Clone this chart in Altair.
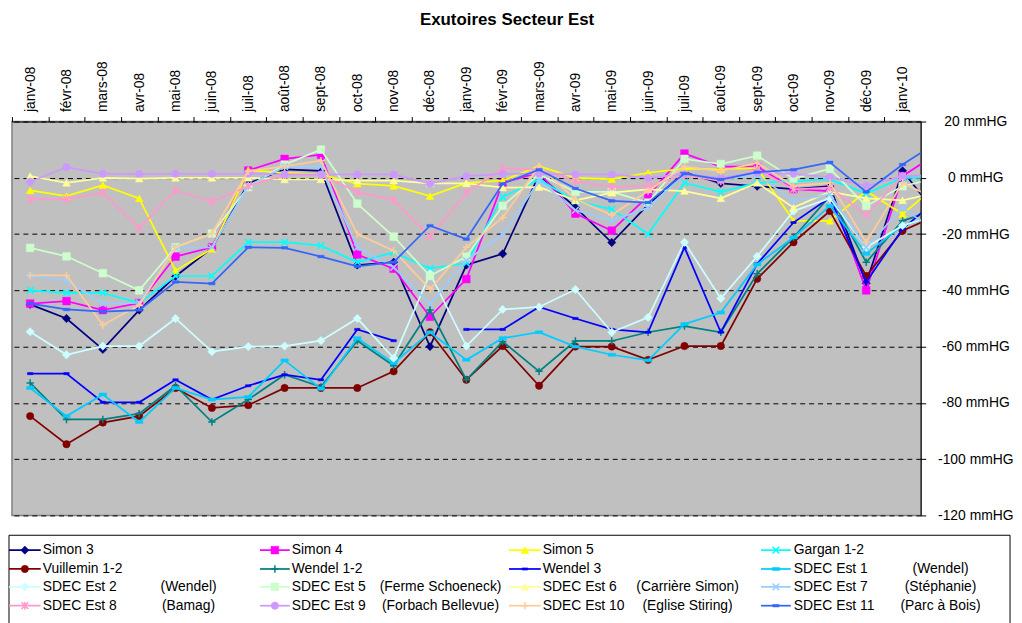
import altair as alt
import pandas as pd

FONT = "Liberation Sans"

months = ["janv-08", "févr-08", "mars-08", "avr-08", "mai-08", "juin-08", "juil-08",
          "août-08", "sept-08", "oct-08", "nov-08", "déc-08", "janv-09", "févr-09",
          "mars-09", "avr-09", "mai-09", "juin-09", "juil-09", "août-09", "sept-09",
          "oct-09", "nov-09", "déc-09", "janv-10"]
# the series continue one month beyond the visible axis (févr-10), clipped at the frame

series_names = ["Simon 3", "Simon 4", "Simon 5", "Gargan 1-2",
                "Vuillemin 1-2", "Wendel 1-2", "Wendel 3", "SDEC Est 1",
                "SDEC Est 2", "SDEC Est 5", "SDEC Est 6", "SDEC Est 7",
                "SDEC Est 8", "SDEC Est 9", "SDEC Est 10", "SDEC Est 11"]
series_notes = ["", "", "", "",
                "", "", "", "(Wendel)",
                "(Wendel)", "(Ferme Schoeneck)", "(Carrière Simon)", "(Stéphanie)",
                "(Bamag)", "(Forbach Bellevue)", "(Eglise Stiring)", "(Parc à Bois)"]

simon3 = [-45, -50, -61, -47, -35, -25, -2, 3, 2.5, -31, -30, -60, -31, -27, 1, -10.5,
          -23, -9.5, 2, -2, -3, -4, -3, -37.5, 2.5, -14]
simon4 = [-44.7, -43.8, -47, -44.5, -28, -24.7, 2.6, 6.7, 8.2, -27.3, -32.3, -49.4, -36,
          -1.8, 1.8, -12.7, -18.8, -6.5, 8.6, 4, 4, -4, -4.7, -40, 0.6, 9]
simon5 = [-4.5, -6.5, -2.6, -7.3, -33, -25.3, 2.7, 1.8, 1.2, -2.1, -2.9, -6.5, -1.8, -1,
          4.1, 0, -0.5, 1.8, 3.3, 3, 3.5, -15.3, -15.3, -4.7, -12.9, -2]
gargan12 = [-40, -40.9, -40.9, -44.5, -34.9, -34.9, -22.9, -22.9, -24.1, -30, -26.5,
            -32.3, -30.3, -6.8, -0.6, -8.2, -11.2, -20, -1.8, -5, -1.8, -1.2, -0.6,
            -5.6, 0, 0]
vuillemin12 = [-84.7, -94.7, -87, -84.7, -74.7, -81.8, -80.8, -74.7, -74.7, -74.7, -68.8,
               -54.9, -71.8, -59.8, -73.9, -60, -60, -64.7, -59.8, -59.8, -35.9, -22.9,
               -11.8, -34.9, -18.8, -13]
wendel12 = [-72.9, -85.9, -85.9, -83.8, -73.9, -86.8, -78.8, -70, -74.3, -57.9, -66.8,
            -47, -71.8, -58.2, -68.8, -58, -58, -54.9, -52.7, -54.9, -34.1, -21.2, -6.5,
            -30, -15.3, -11]
wendel3 = [-69.6, -69.6, -79.8, -79.8, -71.8, -78.8, -73.9, -70, -71.8, -53.9, -57.9,
           None, -53.9, -53.9, -45.9, -50, -53.9, -54.9, -24.7, -54.9, -30.6, -15.9,
           -7, -37, -18.2, -7]
sdec1 = [-74.7, -84.7, -77, -86.8, -74.7, -78.8, -77.9, -64.9, -75, -57, -65.9, -54.9,
         -64.7, -57, -54.9, -60, -62.9, -64.9, -52, -47.9, -30.8, -21.2, -10, -27, -17,
         -13]
sdec2 = [-54.7, -62.9, -59.8, -59.8, -50, -61.8, -60, -59.8, -57.9, -50, -64.1, -34,
         -59.8, -46.8, -45.9, -39.7, -54.9, -49.6, -22.9, -42.9, -27.9, -11.8, -7.3,
         -24.7, -17, -13]
sdec5 = [-24.9, -27.9, -33.9, -40, -24.7, -19.8, -3.3, 4.7, 10, -9.2, -20.9, -34.9, -28,
         -10, 1.2, -5, -5, -8.8, 6.7, 4.9, 7.9, -0.3, 3.2, -10, -3, 0]
sdec6 = [0.6, -1.8, 0, -0.3, 0, 0, 0, -0.6, -0.6, -1, -1, -2, -2, -3.5, -3.3, -8, -5.3,
         -4.1, -4.7, -7.3, -1.8, -10.6, -4.9, -7.3, -8, -5]
sdec7 = [-34.7, -36.5, -44.7, -44.5, -24.9, -24.7, -2.9, 4, 4.1, -24.7, -31.8, -44.9,
         -29.4, -20, -1.2, -11.5, -15.3, -10.6, 1.2, -0.6, 1, -8.2, -5.9, -24.7, -10.6,
         -20]
sdec8 = [-7.6, -7.6, -5.3, -17.9, -4.5, -8.5, -2.9, 1, 1, -5, -7.9, -20.9, -5.3, 3.3, 3,
         -1.2, -3.3, -2.9, 1, -1.2, 3, -4.1, -3.5, -13.2, 0.6, 1]
sdec9 = [-1.4, 3.8, 1.4, 1.4, 1.4, 1.4, 1.4, 1.2, 1.2, 1.2, 1.2, -2.1, 0.6, 1.4, 1.4, 1.2,
         1.2, 0, 1.4, 0, 1.8, 1.4, 0.2, -2.9, 0.6, 1]
sdec10 = [-34.7, -34.7, -52.3, -45.3, -24.7, -19.8, 2.4, 4.1, 6.1, -20, -25.9, -39.6,
          -24.7, -14.1, 4.1, -7.6, -13.2, -4.7, 4, 2.4, 5.3, -2.9, -1.8, -22.9, -1.8, -8]
sdec11 = [-44.7, -46.8, -47.6, -47, -37, -37.6, -24.7, -24.9, -28, -31.5, -30, -17,
          -21.8, -2.1, 2.9, -3.8, -8.2, -8.8, 1.5, -0.6, 2, 2.9, 5.5, -5, 4.7, 13]

series_values = [simon3, simon4, simon5, gargan12, vuillemin12, wendel12, wendel3, sdec1,
                 sdec2, sdec5, sdec6, sdec7, sdec8, sdec9, sdec10, sdec11]

# ---- styles (Excel default palette & markers) ----
X_PATH = "M-1,-1L1,1M-1,1L1,-1"
PLUS_PATH = "M-1,0L1,0M0,-1L0,1"
STAR_PATH = "M-1,-1L1,1M-1,1L1,-1M0,-1.2L0,1.2"
DASH_PATH = "M-1,-0.4L1,-0.4L1,0.4L-1,0.4Z"
styles = {
    "Simon 3":       ("#000080", "diamond", True, 70),
    "Simon 4":       ("#FF00FF", "square", True, 60),
    "Simon 5":       ("#FFFF00", "triangle-up", True, 60),
    "Gargan 1-2":    ("#00FFFF", X_PATH, False, 45),
    "Vuillemin 1-2": ("#800000", "circle", True, 55),
    "Wendel 1-2":    ("#008080", PLUS_PATH, False, 55),
    "Wendel 3":      ("#0000FF", DASH_PATH, True, 30),
    "SDEC Est 1":    ("#00CCFF", DASH_PATH, True, 55),
    "SDEC Est 2":    ("#CCFFFF", "diamond", True, 70),
    "SDEC Est 5":    ("#CCFFCC", "square", True, 60),
    "SDEC Est 6":    ("#FFFF99", "triangle-up", True, 60),
    "SDEC Est 7":    ("#99CCFF", X_PATH, False, 45),
    "SDEC Est 8":    ("#FF99CC", STAR_PATH, False, 45),
    "SDEC Est 9":    ("#CC99FF", "circle", True, 55),
    "SDEC Est 10":   ("#FFCC99", PLUS_PATH, False, 55),
    "SDEC Est 11":   ("#3366FF", DASH_PATH, True, 40),
}

rows = []
for name, vals in zip(series_names, series_values):
    for i, v in enumerate(vals):
        rows.append({"series": name, "idx": i, "value": v})
df = pd.DataFrame(rows)

W, H = 916, 397
PAD_L, PAD_T = 4, 112
half_band = W / len(months) / 2

label_expr = "[" + ",".join("'" + m + "'" for m in months) + "][datum.value]"

x_axis = alt.Axis(orient="top", values=list(range(len(months))), labelExpr=label_expr,
                  labelAngle=270, labelAlign="left", labelBaseline="middle",
                  labelFont=FONT, labelFontSize=14, labelColor="black",
                  labelPadding=5, labelOverlap=False, labelFlush=False, labelBound=False,
                  tickColor="black", tickSize=5, tickWidth=1,
                  tickOffset=-half_band, labelOffset=half_band,
                  domainColor="black", domainWidth=1, grid=False, title=None)
y_axis = alt.Axis(orient="right", values=list(range(-120, 21, 20)),
                  labelExpr="datum.value + ' mmHG'", labelFont=FONT, labelFontSize=14,
                  labelColor="black", labelAlign="center", labelBaseline="middle",
                  labelPadding=50, labelOverlap=False, labelFlush=False, labelBound=False,
                  tickColor="black", tickSize=5, domainColor="black", domainWidth=1,
                  grid=True, gridColor="black", gridDash=[5, 4], gridWidth=1, title=None)

X = alt.X("idx:Q", scale=alt.Scale(domain=[-0.5, len(months) - 0.5], nice=False, zero=False),
          axis=x_axis)
Y = alt.Y("value:Q", scale=alt.Scale(domain=[-120, 20], nice=False, zero=False), axis=y_axis)

base = alt.Chart(df)
main_layers = []
for name in series_names:
    col, shape, filled, size = styles[name]
    b = base.transform_filter(alt.datum.series == name)
    main_layers.append(b.mark_line(color=col, strokeWidth=1.75, clip=True).encode(x=X, y=Y))
    if filled:
        pm = b.mark_point(shape=shape, filled=True, fill=col, stroke=col, strokeWidth=0.5,
                          size=size, opacity=1, clip=True)
    else:
        pm = b.mark_point(shape=shape, filled=False, stroke=col, strokeWidth=1.5,
                          size=size, opacity=1, clip=True)
    main_layers.append(pm.encode(x=X, y=Y))
main = alt.layer(*main_layers)

# ---- legend (drawn below the plot, Excel style box with 4 columns) ----
col_line1 = [9, 262, 513, 767]      # page x
col_line2 = [41, 292, 545, 797]
col_text = [43, 294, 547, 800]
col_note = [190, 444, 693, 948]
row_y = [552, 571, 589, 608]        # page y

leg_rows = []
for k, name in enumerate(series_names):
    c, r = k % 4, k // 4
    colr, shape, filled, size = styles[name]
    leg_rows.append({
        "series": name, "note": series_notes[k],
        "x1": col_line1[c] - 8 - PAD_L, "x2": col_line2[c] - 8 - PAD_L,
        "xm": (col_line1[c] + col_line2[c]) / 2 - 8 - PAD_L,
        "xt": col_text[c] - 8 - PAD_L, "xn": col_note[c] - 8 - PAD_L,
        "y": row_y[r] - 8 - PAD_T,
        "color": colr, "shape": shape, "filled": filled, "size": size,
    })
leg = pd.DataFrame(leg_rows)
box = pd.DataFrame({"x1": [9 - 8 - PAD_L], "x2": [1018 - 8 - PAD_L],
                    "y1": [537 - 8 - PAD_T], "y2": [640 - 8 - PAD_T]})

def px(f):
    return alt.X(f + ":Q", scale=None, axis=None)

def py(f):
    return alt.Y(f + ":Q", scale=None, axis=None)

box_layer = alt.Chart(box).mark_rect(fill="white", stroke="black", strokeWidth=1).encode(
    x=px("x1"), x2="x2:Q", y=py("y1"), y2="y2:Q")
lb = alt.Chart(leg)
rule_layer = lb.mark_rule(strokeWidth=1.75).encode(
    x=px("x1"), x2="x2:Q", y=py("y"), color=alt.Color("color:N", scale=None))
pt_filled = lb.transform_filter("datum.filled").mark_point(filled=True, opacity=1, strokeWidth=0.5).encode(
    x=px("xm"), y=py("y"), fill=alt.Fill("color:N", scale=None),
    stroke=alt.Stroke("color:N", scale=None),
    shape=alt.Shape("shape:N", scale=None), size=alt.Size("size:Q", scale=None))
pt_stroked = lb.transform_filter("!datum.filled").mark_point(filled=False, opacity=1, strokeWidth=1.5).encode(
    x=px("xm"), y=py("y"), stroke=alt.Stroke("color:N", scale=None),
    shape=alt.Shape("shape:N", scale=None), size=alt.Size("size:Q", scale=None))
txt_layer = lb.mark_text(align="left", baseline="middle", font=FONT, fontSize=14,
                         color="black").encode(x=px("xt"), y=py("y"), text="series:N")
note_layer = lb.mark_text(align="center", baseline="middle", font=FONT, fontSize=14,
                          color="black").encode(x=px("xn"), y=py("y"), text="note:N")
legend = alt.layer(box_layer, rule_layer, pt_filled, pt_stroked, txt_layer, note_layer)

chart = alt.layer(main, legend).resolve_scale(x="independent", y="independent").properties(
    width=W, height=H,
    autosize=alt.AutoSizeParams(type="none"),
    padding={"left": PAD_L, "top": PAD_T, "right": 94, "bottom": 106},
    background="white",
    title=alt.TitleParams("Exutoires Secteur Est", font=FONT, fontSize=17, fontWeight="bold",
                          color="black", anchor="middle", frame="group", dx=41, offset=32),
).configure_view(fill="#C0C0C0", stroke="#808080", strokeWidth=1.5)

chart.save("out.html", embed_options={"renderer": "svg", "actions": False})
